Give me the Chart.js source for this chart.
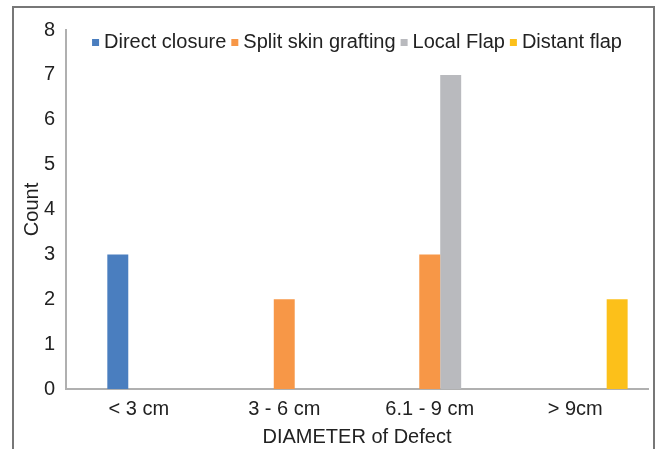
<!DOCTYPE html>
<html>
<head>
<meta charset="utf-8">
<script src="https://cdn.jsdelivr.net/npm/chart.js@4.4.0/dist/chart.umd.min.js"></script>
<style>
  html, body { margin: 0; padding: 0; background: #fff; overflow: hidden; }
  #wrap { position: relative; width: 659px; height: 449px; }
  #frame { position: absolute; left: 12px; top: 6px; width: 639px; height: 500px; border: 2px solid #777; }
  canvas { position: absolute; left: 0; top: 0; }
</style>
</head>
<body>
<div id="wrap">
  <div id="frame"></div>
  <canvas id="chart" width="659" height="449"></canvas>
</div>
<script>
// categories and counts
var categories = ['< 3 cm', '3 - 6 cm', '6.1 - 9 cm', '> 9cm'];
var directClosure = [3, null, null, null];
var splitSkinGrafting = [null, 2, 3, null];
var localFlap = [null, null, 7, null];
var distantFlap = [null, null, null, 2];
// the original leaves an empty slot at the start of each cluster
var emptySlot = [null, null, null, null];
var yTicks = [0, 1, 2, 3, 4, 5, 6, 7, 8];

var font = "'Liberation Sans', Arial, sans-serif";
Chart.defaults.font.family = font;
Chart.defaults.color = '#222';

// Excel-style legend drawn over the top of the plot area
var insideLegend = {
    id: 'insideLegend',
    afterDraw: function (chart) {
        var c = chart.ctx;
        var area = chart.chartArea;
        var items = chart.data.datasets.filter(function (d) { return d.label; });
        var box = 7, gapBox = 5, gapItem = 5;
        c.save();
        c.font = '20px ' + font;
        c.textBaseline = 'middle';
        var widths = items.map(function (d) { return c.measureText(d.label).width; });
        var total = widths.reduce(function (a, w) { return a + box + gapBox + w; }, 0) + gapItem * (items.length - 1);
        var x = (area.left + area.right) / 2 - total / 2;
        var y = 42;
        items.forEach(function (d, i) {
            c.fillStyle = d.backgroundColor;
            c.fillRect(x, y - 3, box, box);
            x += box + gapBox;
            c.fillStyle = '#222';
            c.fillText(d.label, x, y);
            x += widths[i] + gapItem;
        });
        c.restore();
    }
};

var ctx = document.getElementById('chart').getContext('2d');
new Chart(ctx, {
    type: 'bar',
    data: {
        labels: categories,
        datasets: [
            { label: '', data: emptySlot, backgroundColor: 'rgba(0,0,0,0)' },
            { label: 'Direct closure', data: directClosure, backgroundColor: '#4a7ebf' },
            { label: 'Split skin grafting', data: splitSkinGrafting, backgroundColor: '#f79747' },
            { label: 'Local Flap', data: localFlap, backgroundColor: '#b9babe' },
            { label: 'Distant flap', data: distantFlap, backgroundColor: '#fcc01a' }
        ]
    },
    plugins: [insideLegend],
    options: {
        responsive: false,
        animation: false,
        devicePixelRatio: 1,
        datasets: {
            bar: { categoryPercentage: 0.72, barPercentage: 1, borderWidth: 0 }
        },
        layout: { padding: { left: 14, right: 11, top: 30, bottom: 0 } },
        plugins: {
            tooltip: { enabled: false },
            legend: { display: false }
        },
        scales: {
            x: {
                grid: { display: false, drawTicks: false },
                border: { color: '#b0b0b0', width: 2 },
                ticks: { font: { size: 20 }, padding: 8, maxRotation: 0 },
                title: { display: true, text: 'DIAMETER of Defect', font: { size: 20 }, padding: { top: 3, bottom: 0 } },
                afterFit: function (scale) { scale.height = 60; }
            },
            y: {
                min: 0,
                max: 8,
                grid: { display: false, drawTicks: false },
                border: { color: '#b0b0b0', width: 2 },
                afterBuildTicks: function (scale) {
                    scale.ticks = yTicks.map(function (v) { return { value: v }; });
                },
                ticks: { font: { size: 20 }, padding: 11 },
                title: { display: true, text: 'Count', font: { size: 20 }, padding: { top: 6, bottom: 0 } },
                afterFit: function (scale) { scale.width = 52; }
            }
        }
    }
});
</script>
</body>
</html>
